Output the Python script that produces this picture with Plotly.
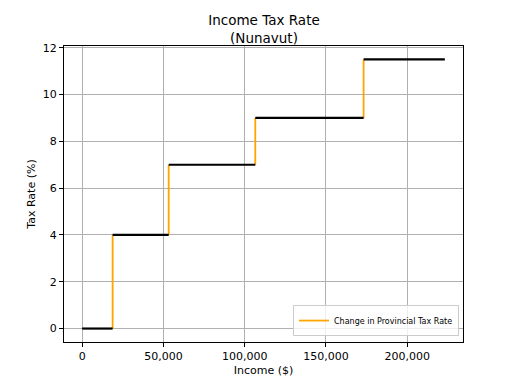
import plotly.graph_objects as go

# Bracket thresholds (income $) and rates (%)
thresholds = [0, 18767, 53268, 106537, 173205, 223205]
rates = [0, 4, 7, 9, 11.5]

hx, hy = [], []
for i, r in enumerate(rates):
    hx += [thresholds[i], thresholds[i + 1], None]
    hy += [r, r, None]

vx, vy = [], []
for i in range(1, len(rates)):
    vx += [thresholds[i], thresholds[i], None]
    vy += [rates[i - 1], rates[i], None]

fig = go.Figure()
fig.add_trace(go.Scatter(x=vx, y=vy, mode="lines", line=dict(color="orange", width=1.8),
                         name="Change in Provincial Tax Rate"))
fig.add_trace(go.Scatter(x=hx, y=hy, mode="lines", line=dict(color="black", width=2.2),
                         showlegend=False))

xmax = thresholds[-1]
ymax = rates[-1]
fig.update_layout(
    width=512, height=384,
    paper_bgcolor="white", plot_bgcolor="white",
    margin=dict(l=56, r=57, t=38, b=50),
    font=dict(family="DejaVu Sans", size=11, color="black"),
    title=dict(text="Income Tax Rate<br>(Nunavut)", x=0.5, xanchor="center",
               y=0.955, yanchor="top", font=dict(size=13.5)),
    xaxis=dict(range=[-0.05 * xmax, 1.05 * xmax], tickvals=[0, 50000, 100000, 150000, 200000],
               tickformat=",", showgrid=True, gridcolor="#b0b0b0", gridwidth=0.8,
               showline=True, linecolor="black", linewidth=1, mirror=True,
               ticks="outside", ticklen=4, tickcolor="black", zeroline=False,
               automargin=False, tickfont=dict(size=11),
               title=dict(text="Income ($)", standoff=4, font=dict(size=11))),
    yaxis=dict(range=[-0.05 * ymax, 1.05 * ymax], tickvals=[0, 2, 4, 6, 8, 10, 12],
               showgrid=True, gridcolor="#b0b0b0", gridwidth=0.8,
               showline=True, linecolor="black", linewidth=1, mirror=True,
               ticks="outside", ticklen=4, tickcolor="black", zeroline=False,
               automargin=False, tickfont=dict(size=11),
               title=dict(text="Tax Rate (%)", standoff=4, font=dict(size=11))),
    legend=dict(x=0.99, y=0.02, xanchor="right", yanchor="bottom",
                bgcolor="rgba(255,255,255,0.8)", bordercolor="#cccccc", borderwidth=1,
                font=dict(size=8), tracegroupgap=0, itemwidth=30),
)
fig.write_html("out.html")
